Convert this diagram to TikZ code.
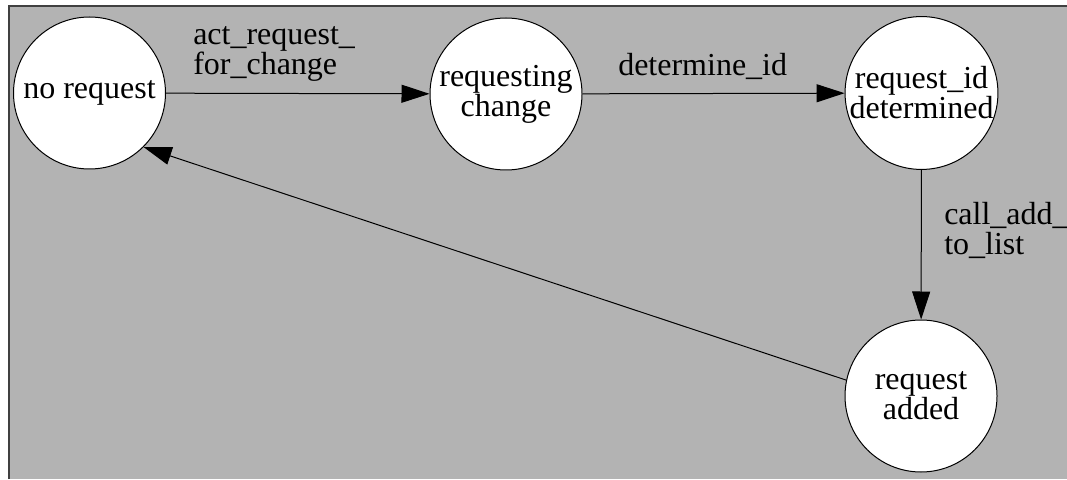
\documentclass[tikz,border=0pt]{standalone}
\usepackage{fontspec}
\setmainfont{Liberation Serif}
\usetikzlibrary{arrows.meta}
\definecolor{bggray}{RGB}{179,179,179}
\begin{document}
\begin{tikzpicture}[x=0.75pt, y=0.75pt,
    state/.style={circle, draw=black, fill=white, line width=0.75pt,
        minimum size=114pt, inner sep=0pt, align=center,
        font=\fontsize{24}{22.5}\selectfont},
    edge/.style={line width=0.75pt, -{Triangle[length=21pt, width=13.5pt]}},
    elabel/.style={align=left, inner sep=0pt, anchor=base west,
        font=\fontsize{24}{22.5}\selectfont}]
    \useasboundingbox (0,0) rectangle (1067,479);
    \fill[bggray] (9,0) rectangle (1067,473);
    \draw[line width=1pt, black!75] (9,0) -- (9,473) -- (1067,473);
    \node[state] (nr)   at (89.5, 386) {no request};
    \node[state] (rc)   at (506, 385)  {requesting\\change};
    \node[state] (rid)  at (921.5, 386) {request\_id\\determined};
    \node[state] (radd) at (921, 83)   {request\\added};
    \draw[edge] (nr) -- (rc);
    \draw[edge] (rc) -- (rid);
    \draw[edge] (rid) -- (radd);
    \draw[edge] (radd.168) -- (nr.-45);
    % base anchor sits on the last line
    \node[elabel] (l1) at (193, 404) {act\_request\_\\for\_change};
    \node[elabel] (l2) at (618, 403) {determine\_id};
    \node[elabel] (l3) at (944, 224) {call\_add\_\\to\_list};
\end{tikzpicture}
\end{document}
